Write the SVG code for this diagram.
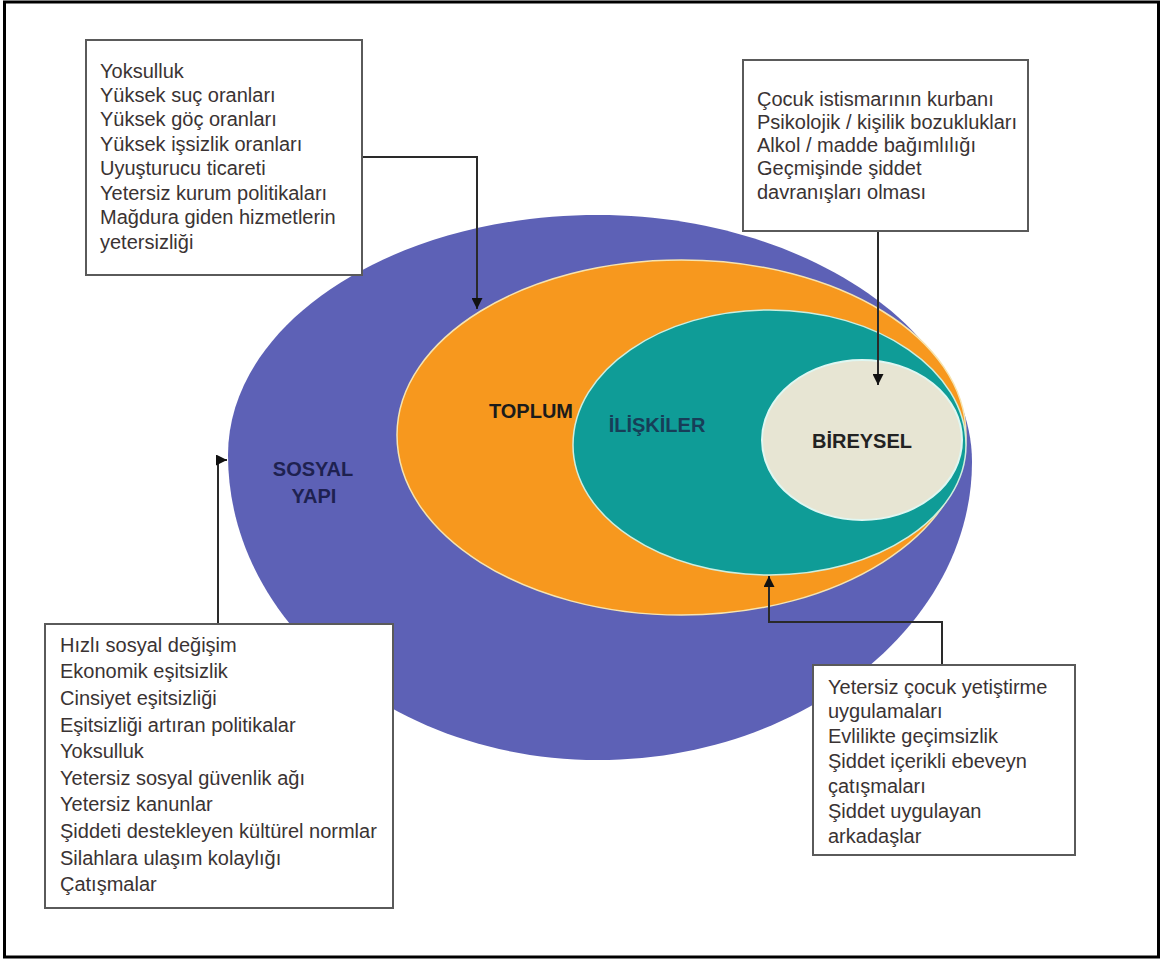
<svg xmlns="http://www.w3.org/2000/svg" width="1164" height="962" viewBox="0 0 1164 962">
  <style>
    .box { fill: #ffffff; stroke: #5a5a5a; stroke-width: 2; }
    .bt { font-family: "Liberation Sans", Arial, sans-serif; font-size: 20px; fill: #3a3333; }
    .lbl { font-family: "Liberation Sans", Arial, sans-serif; font-size: 20px; font-weight: bold; text-anchor: middle; }
    .conn { fill: none; stroke: #2a2a2a; stroke-width: 2; }
  </style>
  <defs>
    <marker id="ah" viewBox="0 0 10 10" refX="10" refY="5" markerWidth="11" markerHeight="11" markerUnits="userSpaceOnUse" orient="auto">
      <path d="M0,0 L10,5 L0,10 Z" fill="#111111"/>
    </marker>
  </defs>
  <rect x="0" y="0" width="1164" height="962" fill="#ffffff"/>
  <rect x="4.5" y="2" width="1154" height="955" fill="none" stroke="#000000" stroke-width="3"/>

  <g id="sosyal-yapi">
    <path d="M228,455 C228,322.4 393.6,215 598,215 C802.4,215 972,330 972,462 C972,625 802.4,760 598,760 C393.6,760 228,623.4 228,455 Z" fill="#5d61b6"/>
    <text class="lbl" x="313" y="476" fill="#1e2150">SOSYAL</text>
    <text class="lbl" x="314" y="503" fill="#1e2150">YAPI</text>
  </g>
  <g id="toplum">
    <path d="M397,435 C397,338.3 524.4,260 681.5,260 C838.6,260 966,338.3 966,435 C966,534.4 838.6,615 681.5,615 C524.4,615 397,534.4 397,435 Z" fill="#f7981e" stroke="#f6e4b0" stroke-width="1.5"/>
    <text class="lbl" x="531" y="418" fill="#1b1b1b">TOPLUM</text>
  </g>
  <g id="iliskiler">
    <path d="M573,445 C573,370.4 661,310 769.5,310 C878,310 966,370.4 966,445 C966,516.8 878,575 769.5,575 C661,575 573,516.8 573,445 Z" fill="#0f9c97" stroke="#cfeede" stroke-width="1.5"/>
    <text class="lbl" x="657" y="432" fill="#173e58">İLİŞKİLER</text>
  </g>
  <g id="bireysel">
    <ellipse cx="862" cy="440" rx="100" ry="80" fill="#e7e5d3" stroke="#dff7f2" stroke-width="2"/>
    <text class="lbl" x="862" y="448" fill="#222222" font-size="21">BİREYSEL</text>
  </g>

  <g id="connectors">
    <polyline class="conn" points="362,157 477,157 477,309" marker-end="url(#ah)"/>
    <polyline class="conn" points="878,231 878,385" marker-end="url(#ah)"/>
    <polyline class="conn" points="218,624 218,460 227,460" marker-end="url(#ah)"/>
    <polyline class="conn" points="942,665 942,622 769,622 769,576" marker-end="url(#ah)"/>
  </g>

  <g id="box-toplum">
    <rect class="box" x="86" y="40" width="276" height="235"/>
    <text class="bt" x="100" y="78">Yoksulluk</text>
    <text class="bt" x="100" y="102">Yüksek suç oranları</text>
    <text class="bt" x="100" y="126">Yüksek göç oranları</text>
    <text class="bt" x="100" y="151">Yüksek işsizlik oranları</text>
    <text class="bt" x="100" y="175">Uyuşturucu ticareti</text>
    <text class="bt" x="100" y="200">Yetersiz kurum politikaları</text>
    <text class="bt" x="100" y="224">Mağdura giden hizmetlerin</text>
    <text class="bt" x="100" y="249">yetersizliği</text>
  </g>
  <g id="box-bireysel">
    <rect class="box" x="743" y="60" width="285" height="171"/>
    <text class="bt" x="757" y="106">Çocuk istismarının kurbanı</text>
    <text class="bt" x="757" y="129">Psikolojik / kişilik bozuklukları</text>
    <text class="bt" x="757" y="152">Alkol / madde bağımlılığı</text>
    <text class="bt" x="757" y="175">Geçmişinde şiddet</text>
    <text class="bt" x="757" y="199">davranışları olması</text>
  </g>
  <g id="box-sosyal">
    <rect class="box" x="45" y="624" width="348" height="284"/>
    <text class="bt" x="60" y="652">Hızlı sosyal değişim</text>
    <text class="bt" x="60" y="678">Ekonomik eşitsizlik</text>
    <text class="bt" x="60" y="705">Cinsiyet eşitsizliği</text>
    <text class="bt" x="60" y="732">Eşitsizliği artıran politikalar</text>
    <text class="bt" x="60" y="758">Yoksulluk</text>
    <text class="bt" x="60" y="785">Yetersiz sosyal güvenlik ağı</text>
    <text class="bt" x="60" y="811">Yetersiz kanunlar</text>
    <text class="bt" x="60" y="838">Şiddeti destekleyen kültürel normlar</text>
    <text class="bt" x="60" y="865">Silahlara ulaşım kolaylığı</text>
    <text class="bt" x="60" y="891">Çatışmalar</text>
  </g>
  <g id="box-iliskiler">
    <rect class="box" x="813" y="665" width="262" height="190"/>
    <text class="bt" x="828" y="694">Yetersiz çocuk yetiştirme</text>
    <text class="bt" x="828" y="718">uygulamaları</text>
    <text class="bt" x="828" y="743">Evlilikte geçimsizlik</text>
    <text class="bt" x="828" y="768">Şiddet içerikli ebeveyn</text>
    <text class="bt" x="828" y="793">çatışmaları</text>
    <text class="bt" x="828" y="818">Şiddet uygulayan</text>
    <text class="bt" x="828" y="843">arkadaşlar</text>
  </g>
</svg>
